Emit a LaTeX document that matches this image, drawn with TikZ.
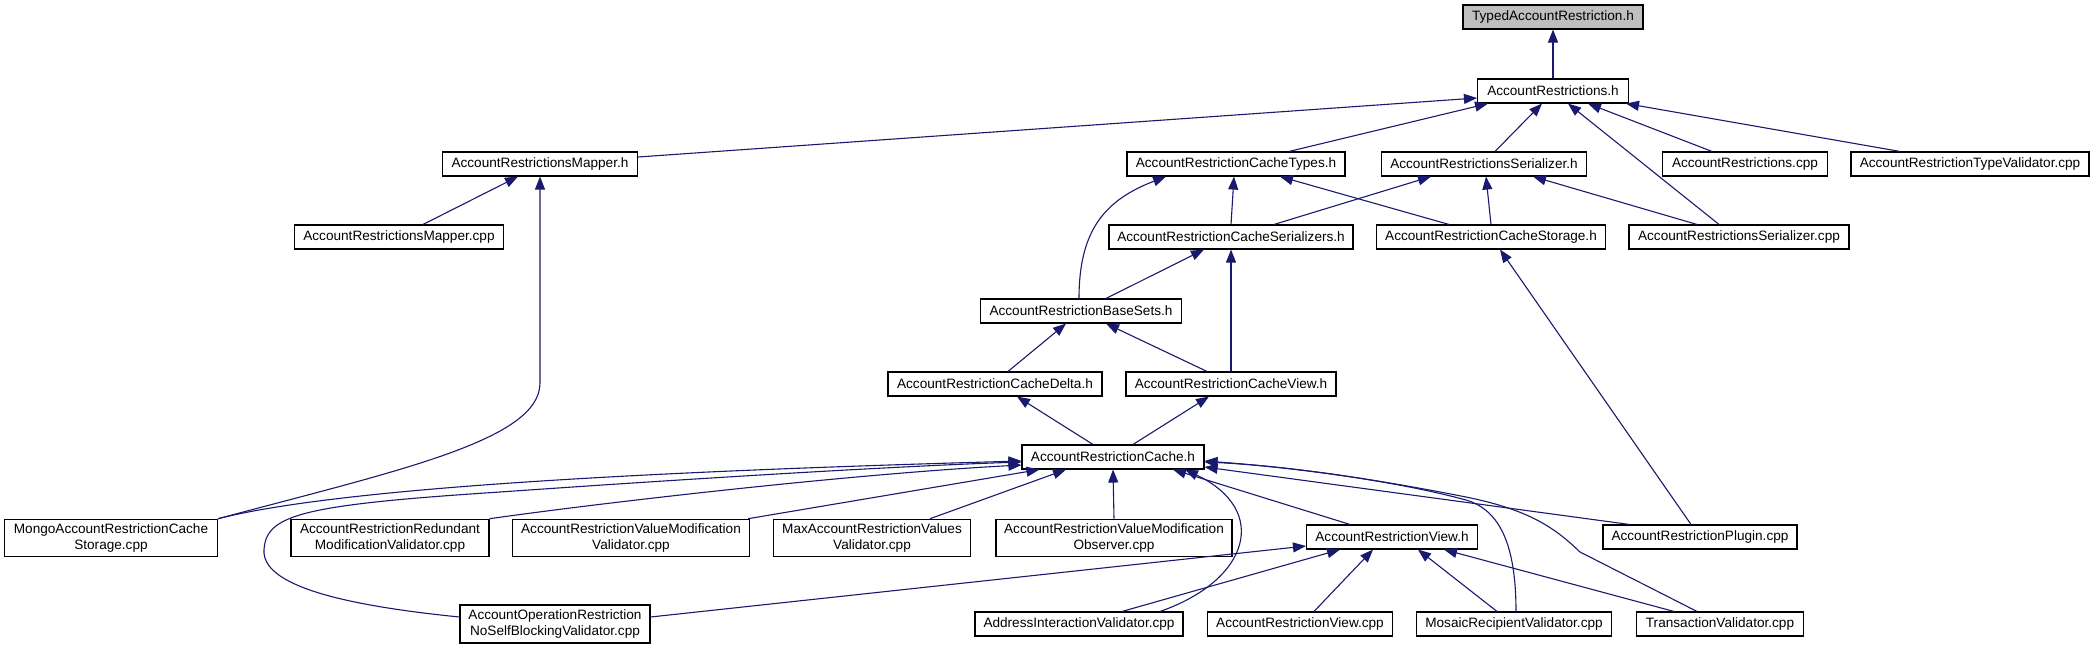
\documentclass[tikz,border=0pt]{standalone}
\usepackage{fontspec}
\setmainfont{Liberation Sans}
\usetikzlibrary{arrows.meta}
\definecolor{edgecol}{HTML}{191970}
\definecolor{rootfill}{HTML}{BFBFBF}
\begin{document}
\begin{tikzpicture}[x=1pt,y=-1pt,
  box/.style={draw=black, line width=1.1pt, fill=white, rectangle, inner sep=0pt,
    minimum height=24pt, align=center, font=\fontsize{13.6}{15.2}\selectfont},
  tall/.style={minimum height=37.5pt},
  edge/.style={draw=edgecol, line width=1.1pt, -{Triangle[length=13pt,width=10pt]}}]
\useasboundingbox[fill=white] (0,0) rectangle (2094,649);

% row 0/1
\node[box, fill=rootfill, minimum width=180pt] (typed) at (1553,17) {TypedAccountRestriction.h};
\node[box, minimum width=151pt] (ar) at (1553,91) {AccountRestrictions.h};
% row 2
\node[box, minimum width=195pt] (mapperh) at (540,164) {AccountRestrictionsMapper.h};
\node[box, minimum width=218pt] (ctypes) at (1236,164) {AccountRestrictionCacheTypes.h};
\node[box, minimum width=205pt] (serh) at (1484,164) {AccountRestrictionsSerializer.h};
\node[box, minimum width=165pt] (arcpp) at (1745,164) {AccountRestrictions.cpp};
\node[box, minimum width=238pt] (typeval) at (1970,164) {AccountRestrictionTypeValidator.cpp};
% row 3
\node[box, minimum width=209pt] (mappercpp) at (399,237) {AccountRestrictionsMapper.cpp};
\node[box, minimum width=244pt] (cser) at (1231,237) {AccountRestrictionCacheSerializers.h};
\node[box, minimum width=229pt] (cstor) at (1491,237) {AccountRestrictionCacheStorage.h};
\node[box, minimum width=220pt] (sercpp) at (1739,237) {AccountRestrictionsSerializer.cpp};
% row 4-6
\node[box, minimum width=201pt] (bases) at (1081,311) {AccountRestrictionBaseSets.h};
\node[box, minimum width=214pt] (cdelta) at (995,384) {AccountRestrictionCacheDelta.h};
\node[box, minimum width=210pt] (cview) at (1231,384) {AccountRestrictionCacheView.h};
\node[box, minimum width=182pt] (cache) at (1113,457) {AccountRestrictionCache.h};
% row 7
\node[box, tall, minimum width=213pt] (mongo) at (111,538) {MongoAccountRestrictionCache\\Storage.cpp};
\node[box, tall, minimum width=198pt] (redund) at (390,538) {AccountRestrictionRedundant\\ModificationValidator.cpp};
\node[box, tall, minimum width=237pt] (valmod) at (631,538) {AccountRestrictionValueModification\\Validator.cpp};
\node[box, tall, minimum width=197pt] (maxval) at (872,538) {MaxAccountRestrictionValues\\Validator.cpp};
\node[box, tall, minimum width=236pt] (obs) at (1114,538) {AccountRestrictionValueModification\\Observer.cpp};
\node[box, minimum width=171pt] (viewh) at (1392,537) {AccountRestrictionView.h};
\node[box, minimum width=194pt] (plugin) at (1700,537) {AccountRestrictionPlugin.cpp};
% row 8
\node[box, tall, minimum width=190pt, minimum height=38pt] (noself) at (555,624) {AccountOperationRestriction\\NoSelfBlockingValidator.cpp};
\node[box, minimum width=208pt] (addr) at (1079,624) {AddressInteractionValidator.cpp};
\node[box, minimum width=185pt] (viewcpp) at (1300,624) {AccountRestrictionView.cpp};
\node[box, minimum width=195pt] (mosaic) at (1514,624) {MosaicRecipientValidator.cpp};
\node[box, minimum width=167pt] (trans) at (1720,624) {TransactionValidator.cpp};

% edges
\draw[edge] (ar.north) -- (typed.south);
\draw[edge] ([yshift=7pt]mapperh.east) -- ([yshift=-7pt]ar.west);
\draw[edge] ([xshift=53pt]ctypes.north) -- ([xshift=-65pt]ar.south);
\draw[edge] ([xshift=11pt]serh.north) -- ([xshift=-11pt]ar.south);
\draw[edge] ([xshift=-20pt]sercpp.north) -- ([xshift=15pt]ar.south);
\draw[edge] ([xshift=-33pt]arcpp.north) -- ([xshift=35pt]ar.south);
\draw[edge] ([xshift=-70pt]typeval.north) -- ([xshift=73pt]ar.south);

\draw[edge] ([xshift=24pt]mappercpp.north) -- ([xshift=-22pt]mapperh.south);
\draw[edge] (mongo.north east) .. controls (400,470) and (540,440) .. (540,383) -- (mapperh.south);

\draw[edge] (cser.north) -- ([xshift=-2pt]ctypes.south);
\draw[edge] ([xshift=43pt]cser.north) -- ([xshift=-53pt]serh.south);
\draw[edge] ([xshift=-42pt]cstor.north) -- ([xshift=44pt]ctypes.south);
\draw[edge] (cstor.north) -- ([xshift=2pt]serh.south);
\draw[edge] ([xshift=-42pt]sercpp.north) -- ([xshift=49pt]serh.south);

\draw[edge] ([xshift=-2pt]bases.north) .. controls (1079,230) and (1105,200) .. ([xshift=-70pt]ctypes.south);
\draw[edge] ([xshift=25pt]bases.north) -- ([xshift=-27pt]cser.south);
\draw[edge] ([xshift=13pt]cdelta.north) -- ([xshift=-15pt]bases.south);
\draw[edge] ([xshift=-24pt]cview.north) -- ([xshift=25pt]bases.south);
\draw[edge] (cview.north) -- (cser.south);
\draw[edge] ([xshift=-20pt]cache.north) -- ([xshift=22pt]cdelta.south);
\draw[edge] ([xshift=20pt]cache.north) -- ([xshift=-22pt]cview.south);
\draw[edge] ([xshift=-9pt]plugin.north) -- ([xshift=9pt]cstor.south);

% into cache (left)
\draw[edge] (mongo.north east) .. controls (350,485) and (700,470) .. ([yshift=-4pt]cache.west);
\draw[edge] ([yshift=7pt]noself.west) .. controls (340,605) and (262,585) .. (264,550)
   .. controls (266,515) and (300,505) .. (500,492)
   .. controls (700,478) and (900,466) .. ([yshift=-5pt]cache.west);
\draw[edge] (redund.north east) .. controls (600,503) and (850,474) .. ([yshift=-8pt]cache.west);
\draw[edge] ([xshift=-2pt]valmod.north east) -- ([xshift=18pt]cache.south west);
\draw[edge] ([xshift=58pt]maxval.north) -- ([xshift=-47pt]cache.south);
\draw[edge] (obs.north) -- (cache.south);
\draw[edge] ([xshift=-42pt]viewh.north) -- ([xshift=60pt]cache.south);
\draw[edge] ([xshift=81pt]addr.north) .. controls (1250,580) and (1270,510) .. ([xshift=72pt]cache.south);

% into viewh
\draw[edge] ([xshift=43pt]addr.north) -- ([xshift=-52pt]viewh.south);
\draw[edge] ([xshift=14pt]viewcpp.north) -- ([xshift=-19pt]viewh.south);
\draw[edge] ([yshift=7pt]noself.east) -- ([yshift=-9pt]viewh.west);
\draw[edge] ([xshift=-17pt]mosaic.north) -- ([xshift=26pt]viewh.south);
\draw[edge] ([xshift=-46pt]trans.north) -- ([xshift=52pt]viewh.south);

% into cache (right)
\draw[edge] ([xshift=2pt]mosaic.north) .. controls (1516,545) and (1500,510) .. (1466,500)
   .. controls (1400,482) and (1300,468) .. ([yshift=-4pt]cache.east);
\draw[edge] ([xshift=-23pt]trans.north) -- (1580,552) .. controls (1555,528) and (1530,510) .. (1466,497)
   .. controls (1380,480) and (1290,466) .. ([yshift=-5pt]cache.east);
\draw[edge] ([xshift=27pt]plugin.north west) -- ([yshift=-10pt]cache.east);
\end{tikzpicture}
\end{document}
